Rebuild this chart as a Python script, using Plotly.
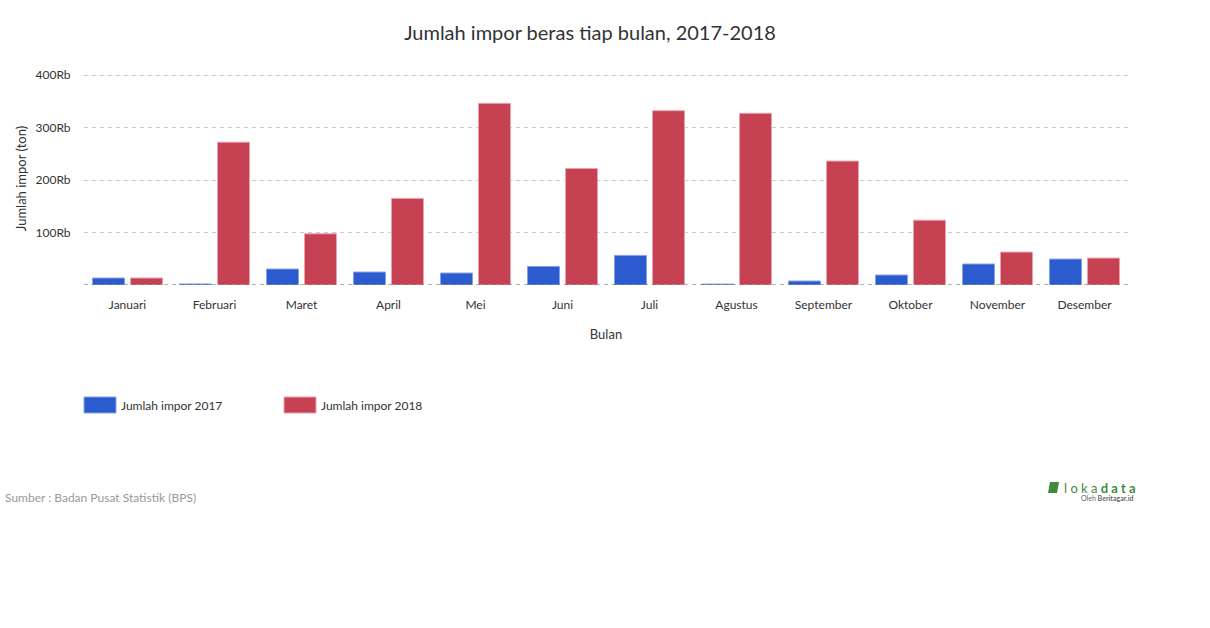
import plotly.graph_objects as go

bulan = ["Januari", "Februari", "Maret", "April", "Mei", "Juni", "Juli",
         "Agustus", "September", "Oktober", "November", "Desember"]
impor_2017 = [13300, 2000, 30400, 24700, 22800, 35400, 56300, 1800, 7600, 19000, 40000, 49400]
impor_2018 = [13300, 272000, 97500, 165000, 346000, 222000, 332000, 327000, 236000, 123500, 62700, 51300]
y_tickvals = [100000, 200000, 300000, 400000]
y_ticktext = ["100Rb", "200Rb", "300Rb", "400Rb"]
series_names = ["Jumlah impor 2017", "Jumlah impor 2018"]

BLUE = "#2c5bcf"
RED = "#c64152"
FONT = "Lato, 'Open Sans', sans-serif"

fig = go.Figure()
fig.add_trace(go.Bar(x=bulan, y=impor_2017, name=series_names[0],
                     marker=dict(color=BLUE, line=dict(color="#86a2e6", width=1))))
fig.add_trace(go.Bar(x=bulan, y=impor_2018, name=series_names[1],
                     marker=dict(color=RED, line=dict(color="#eaa3ae", width=1))))

W, H = 1210, 628
PL, PR, PT, PB = 84, 1128, 72, 285
ml, mr, mt, mb = PL, W - PR, PT, H - PB
PW, PH = PR - PL, PB - PT
y_top = 400000 * PH / 210.0

def px_x(x):
    return (x - PL) / PW

def px_y(y):
    return (PB - y) / PH

shapes = [
    dict(type="line", xref="paper", yref="y", x0=0, x1=1, y0=0, y1=0,
         line=dict(color="#666666", width=1, dash="4px,4px"), layer="above"),
]
annotations = []
# legend drawn manually
leg = [(84, BLUE, "#86a2e6", series_names[0]), (284, RED, "#eaa3ae", series_names[1])]
for x0, c, lc, name in leg:
    shapes.append(dict(type="rect", xref="paper", yref="paper",
                       x0=px_x(x0), x1=px_x(x0 + 32), y0=px_y(413), y1=px_y(397),
                       fillcolor=c, line=dict(color=lc, width=1)))
    annotations.append(dict(xref="paper", yref="paper", x=px_x(x0 + 35), y=px_y(405.5),
                            xanchor="left", yanchor="middle", showarrow=False,
                            text=name, font=dict(family=FONT, size=12, color="#333333")))

annotations.append(dict(xref="paper", yref="paper", x=px_x(3), y=px_y(497),
                        xanchor="left", yanchor="middle", showarrow=False,
                        text="Sumber : Badan Pusat Statistik (BPS)",
                        font=dict(family=FONT, size=12, color="#999999")))
# logo
lx0, lx1, ly0, ly1 = px_x(1048), px_x(1059), px_y(493), px_y(482)
shapes.append(dict(type="path", xref="paper", yref="paper",
                   path="M {a},{b} L {c},{d} L {e},{d} L {f},{b} Z".format(
                       a=lx0, b=ly0, c=px_x(1050), d=ly1, e=lx1, f=px_x(1057)),
                   fillcolor="#3f8a3f", line=dict(width=0)))
annotations.append(dict(xref="paper", yref="paper", x=px_x(1062), y=px_y(488),
                        xanchor="left", yanchor="middle", showarrow=False,
                        text="l o k a <b>d a t a</b>",
                        font=dict(family=FONT, size=13, color="#3f8a3f")))
annotations.append(dict(xref="paper", yref="paper", x=px_x(1135), y=px_y(498),
                        xanchor="right", yanchor="middle", showarrow=False,
                        text="Oleh <b>Beritagar.id</b>",
                        font=dict(family=FONT, size=7, color="#666666")))

fig.update_layout(
    width=W, height=H,
    margin=dict(l=ml, r=mr, t=mt, b=mb, autoexpand=False),
    paper_bgcolor="white", plot_bgcolor="white",
    font=dict(family=FONT, size=12, color="#333333"),
    title=dict(text="Jumlah impor beras tiap bulan, 2017-2018",
               x=590 / W, xanchor="center", y=1 - 33 / H, yanchor="middle",
               font=dict(family=FONT, size=20, color="#333333")),
    bargap=0.126, bargroupgap=0.158,
    showlegend=False,
    shapes=shapes, annotations=annotations,
)
fig.update_xaxes(showgrid=False, zeroline=False, showline=False,
                 ticks="outside", ticklen=9, tickcolor="rgba(0,0,0,0)",
                 tickfont=dict(family=FONT, size=12, color="#333333"),
                 title=dict(text="Bulan", standoff=18,
                            font=dict(family=FONT, size=13, color="#333333")))
fig.update_yaxes(range=[0, y_top], tickvals=y_tickvals, ticktext=y_ticktext,
                 showgrid=True, gridcolor="#cccccc", griddash="4px,4px", gridwidth=1,
                 zeroline=False, showline=False,
                 ticks="outside", ticklen=10, tickcolor="rgba(0,0,0,0)",
                 tickfont=dict(family=FONT, size=12, color="#333333"),
                 title=dict(text="Jumlah impor (ton)", standoff=6,
                            font=dict(family=FONT, size=13, color="#333333")))

fig.write_html("out.html", config={"displayModeBar": False},
               post_script="document.body.style.margin='0';")
